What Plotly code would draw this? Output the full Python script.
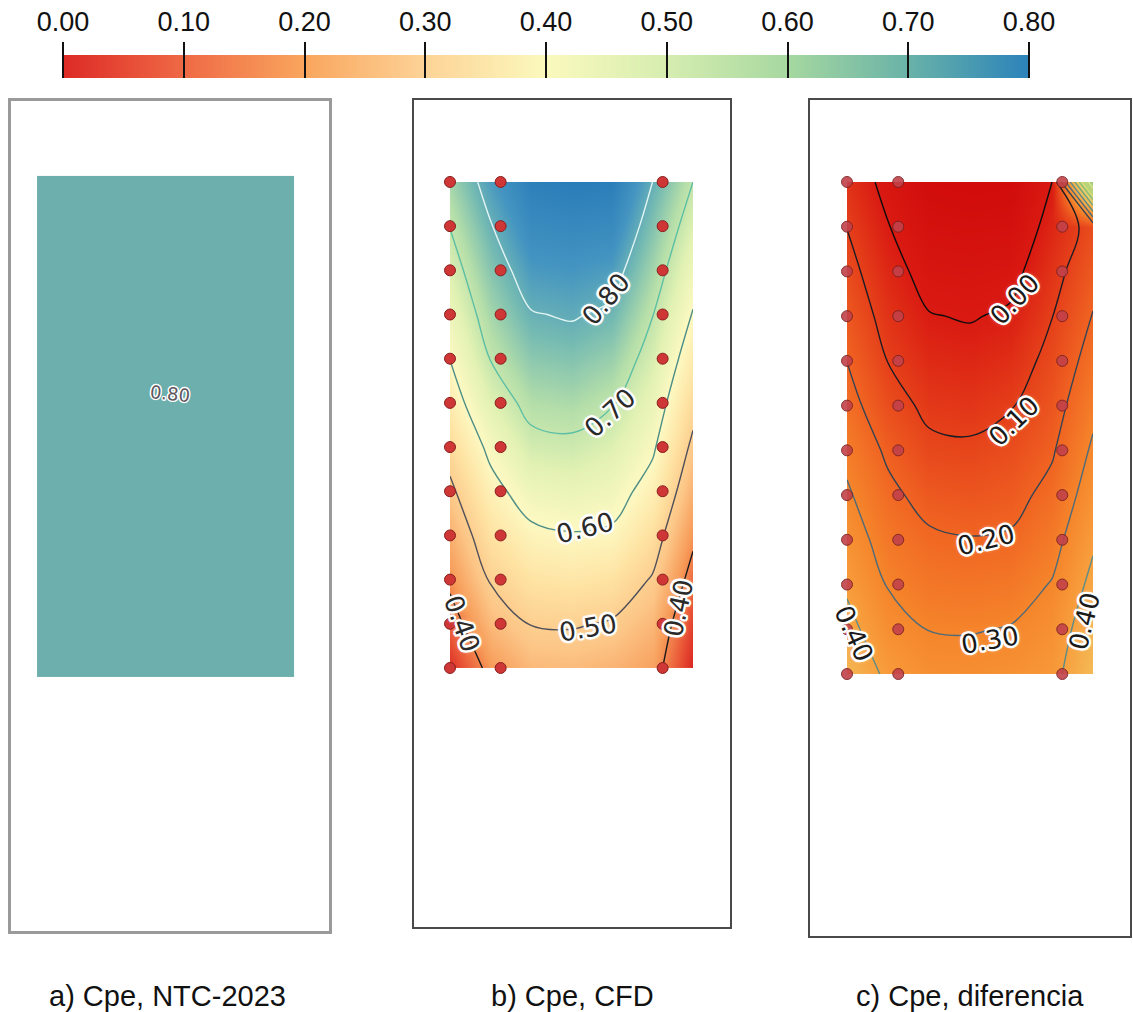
import plotly.graph_objects as go

W, H = 1133, 1012

# ---------------- data ----------------
cbar_ticks = [0.0, 0.1, 0.2, 0.3, 0.4, 0.5, 0.6, 0.7, 0.8]
cbar_ticktext = ["0.00", "0.10", "0.20", "0.30", "0.40", "0.50", "0.60", "0.70", "0.80"]

# grid of the pressure field (x across the face, y downward from the top edge)
x_cols = [0, 4, 8, 12, 16, 20, 24]
y_rows = [0, 4, 8, 12, 16, 20, 24, 28, 32, 36, 40, 44]

# a) NTC-2023 : uniform value
cpe_ntc = 0.80
ntc_x_edges = [0, 24]
ntc_y_edges = [0, 44]

# b) CFD
cpe_cfd = [
    [0.735, 0.830, 0.900, 0.910, 0.905, 0.800, 0.700],
    [0.702, 0.796, 0.868, 0.875, 0.870, 0.767, 0.665],
    [0.668, 0.765, 0.833, 0.840, 0.828, 0.735, 0.630],
    [0.635, 0.734, 0.796, 0.806, 0.787, 0.702, 0.596],
    [0.601, 0.702, 0.758, 0.767, 0.746, 0.672, 0.560],
    [0.565, 0.662, 0.720, 0.728, 0.705, 0.641, 0.523],
    [0.525, 0.616, 0.680, 0.687, 0.665, 0.610, 0.486],
    [0.487, 0.578, 0.632, 0.642, 0.628, 0.574, 0.450],
    [0.450, 0.541, 0.585, 0.596, 0.590, 0.533, 0.414],
    [0.414, 0.505, 0.543, 0.550, 0.540, 0.495, 0.375],
    [0.370, 0.465, 0.502, 0.505, 0.495, 0.460, 0.335],
    [0.320, 0.420, 0.462, 0.465, 0.455, 0.430, 0.310],
]

# c) difference
cpe_diff = [
    [0.065, -0.030, -0.100, -0.110, -0.105, 0.000, 0.900],
    [0.098, 0.004, -0.068, -0.075, -0.070, 0.033, 0.135],
    [0.132, 0.035, -0.033, -0.040, -0.028, 0.065, 0.170],
    [0.165, 0.066, 0.004, -0.006, 0.013, 0.098, 0.204],
    [0.199, 0.098, 0.042, 0.033, 0.054, 0.128, 0.240],
    [0.235, 0.138, 0.080, 0.072, 0.095, 0.159, 0.277],
    [0.275, 0.184, 0.120, 0.113, 0.135, 0.190, 0.314],
    [0.313, 0.222, 0.168, 0.158, 0.172, 0.226, 0.350],
    [0.350, 0.259, 0.215, 0.204, 0.210, 0.267, 0.386],
    [0.386, 0.295, 0.257, 0.250, 0.260, 0.305, 0.425],
    [0.430, 0.335, 0.298, 0.295, 0.305, 0.340, 0.465],
    [0.480, 0.380, 0.338, 0.335, 0.345, 0.370, 0.490],
]

# pressure taps
tap_x = [0, 5, 21]
tap_y = [0, 4, 8, 12, 16, 20, 24, 28, 32, 36, 40, 44]

captions = ["a) Cpe, NTC-2023", "b) Cpe, CFD", "c) Cpe, diferencia"]

cfd_label_text = ["0.80", "0.70", "0.60", "0.50", "0.40", "0.40"]
diff_label_text = ["0.00", "0.10", "0.20", "0.30", "0.40", "0.40"]
ntc_label_text = "0.80"

# ---------------- styling / layout helpers ----------------
# label placement (x, y, angle) in panel data units
cfd_label_pos = [(15.4, 10.6, -50), (15.8, 20.9, -42), (13.3, 31.3, -14),
                 (13.6, 40.4, -10), (1.2, 40.0, 70), (22.6, 38.6, -78)]
diff_label_pos = [(16.4, 10.5, -47), (16.3, 21.4, -44), (13.6, 32.0, -14),
                  (14.0, 41.0, -10), (0.7, 40.4, 66), (23.2, 39.3, -76)]
ntc_label_pos = (12.4, 19.1, 6)

cbar_scale = [[0.0, "#dd2a26"], [0.125, "#ef6a45"], [0.25, "#f9a65e"],
              [0.375, "#fdd397"], [0.5, "#fbf9bd"], [0.625, "#d6edb0"],
              [0.75, "#a6d8a0"], [0.875, "#69b2a8"], [1.0, "#2b83ba"]]

b_zmin, b_zmax = 0.30, 0.91
b_stops = [(0.30, "#d7191c"), (0.36, "#ea5a39"), (0.42, "#f79b58"),
           (0.48, "#fcc586"), (0.54, "#fee2a2"), (0.60, "#fdf9c2"),
           (0.66, "#e2f2b3"), (0.72, "#b4dea9"), (0.78, "#76bbb2"),
           (0.84, "#4495c1"), (0.91, "#2a7cb9")]
b_scale = [[(v - b_zmin) / (b_zmax - b_zmin), c] for v, c in b_stops]

c_zmin, c_zmax = -0.12, 0.90
c_stops = [(-0.12, "#d00a0a"), (0.0, "#d91a12"), (0.10, "#e5401a"),
           (0.20, "#f06422"), (0.30, "#f5852b"), (0.40, "#f8a03e"),
           (0.50, "#f3bd5a"), (0.65, "#d8d878"), (0.90, "#98cc78")]
c_scale = [[(v - c_zmin) / (c_zmax - c_zmin), c] for v, c in c_stops]

b_line_scale = [[0.0, "#1a1a1a"], [0.25, "#50505a"], [0.5, "#4f8f86"],
                [0.75, "#5cbfa5"], [1.0, "#e2f5f2"]]
c_line_scale = [[0.0, "#0d0d0d"], [0.125, "#1c1c24"], [0.25, "#334455"],
                [0.375, "#4d6b7a"], [0.5, "#5e8c86"], [0.625, "#6ea57e"],
                [0.75, "#8cbf78"], [0.875, "#b0d47a"], [1.0, "#d4e690"]]

halo = ("2.4px 0 0 #fff, -2.4px 0 0 #fff, 0 2.4px 0 #fff, 0 -2.4px 0 #fff, "
        "1.8px 1.8px 0 #fff, -1.8px -1.8px 0 #fff, 1.8px -1.8px 0 #fff, "
        "-1.8px 1.8px 0 #fff, 0 0 5px #fff")
halo_small = ("1.4px 0 0 #fff, -1.4px 0 0 #fff, 0 1.4px 0 #fff, 0 -1.4px 0 #fff, "
              "1px 1px 0 #fff, -1px -1px 0 #fff, 1px -1px 0 #fff, -1px 1px 0 #fff")


def fx(p):
    return p / W


def fy(p):
    return 1 - p / H


fig = go.Figure()

# ----- colour bar (own axes) -----
fig.add_trace(go.Contour(
    x=cbar_ticks, y=[0, 1], z=[cbar_ticks, cbar_ticks],
    colorscale=cbar_scale, zmin=0, zmax=0.8, showscale=False,
    contours=dict(coloring="heatmap", showlines=False),
    line=dict(width=0), xaxis="x4", yaxis="y4", hoverinfo="skip"))

# ----- panel a -----
fig.add_trace(go.Heatmap(
    x=ntc_x_edges, y=ntc_y_edges, z=[[cpe_ntc]],
    colorscale=[[0, "#6cafad"], [1, "#6cafad"]], showscale=False,
    xaxis="x", yaxis="y", hoverinfo="skip"))

# ----- panel b -----
fig.add_trace(go.Contour(
    x=x_cols, y=y_rows, z=cpe_cfd, colorscale=b_scale, zmin=b_zmin, zmax=b_zmax,
    showscale=False, contours=dict(coloring="heatmap", showlines=False),
    line=dict(width=0), xaxis="x2", yaxis="y2", hoverinfo="skip"))
fig.add_trace(go.Contour(
    x=x_cols, y=y_rows, z=cpe_cfd, colorscale=b_line_scale, zmin=0.4, zmax=0.8,
    showscale=False, autocontour=False,
    contours=dict(coloring="lines", start=0.4, end=0.8, size=0.1),
    line=dict(width=1.4, smoothing=1.0), xaxis="x2", yaxis="y2", hoverinfo="skip"))
fig.add_trace(go.Scatter(
    x=[xv for yv in tap_y for xv in tap_x], y=[yv for yv in tap_y for xv in tap_x],
    mode="markers", marker=dict(size=11, color="#cf3636", line=dict(color="#8a1f1f", width=1)),
    xaxis="x2", yaxis="y2", hoverinfo="skip"))

# ----- panel c -----
fig.add_trace(go.Contour(
    x=x_cols, y=y_rows, z=cpe_diff, colorscale=c_scale, zmin=c_zmin, zmax=c_zmax,
    showscale=False, contours=dict(coloring="heatmap", showlines=False),
    line=dict(width=0), xaxis="x3", yaxis="y3", hoverinfo="skip"))
fig.add_trace(go.Contour(
    x=x_cols, y=y_rows, z=cpe_diff, colorscale=c_line_scale, zmin=0.0, zmax=0.8,
    showscale=False, autocontour=False,
    contours=dict(coloring="lines", start=0.0, end=0.8, size=0.1),
    line=dict(width=1.4, smoothing=1.0), xaxis="x3", yaxis="y3", hoverinfo="skip"))
fig.add_trace(go.Scatter(
    x=[xv for yv in tap_y for xv in tap_x], y=[yv for yv in tap_y for xv in tap_x],
    mode="markers", marker=dict(size=11, color="#c2414a", opacity=0.9,
                                line=dict(color="#7a2222", width=1)),
    xaxis="x3", yaxis="y3", hoverinfo="skip"))


# ----- axes -----
def box_axis(domain, rng, color, width, anchor):
    return dict(domain=domain, range=rng, showgrid=False, zeroline=False,
                showticklabels=False, ticks="", showline=True, mirror=True,
                linecolor=color, linewidth=width, fixedrange=True,
                automargin=False, anchor=anchor)


layout = dict(
    width=W, height=H, margin=dict(l=0, r=0, t=0, b=0, autoexpand=False),
    paper_bgcolor="white", plot_bgcolor="rgba(0,0,0,0)", showlegend=False,
    xaxis=box_axis([fx(10.7), fx(328.5)], [-2.46, 27.22], "#9a9a9a", 2.5, "y"),
    yaxis=box_axis([fy(931), fy(101)], [66.3, -6.58], "#9a9a9a", 2.5, "x"),
    xaxis2=box_axis([fx(414), fx(730)], [-3.556, 27.654], "#4a4a4a", 1.5, "y2"),
    yaxis2=box_axis([fy(927), fy(100)], [67.45, -7.42], "#4a4a4a", 1.5, "x2"),
    xaxis3=box_axis([fx(810), fx(1130)], [-3.61, 27.61], "#4a4a4a", 1.5, "y3"),
    yaxis3=box_axis([fy(936), fy(100)], [67.43, -7.33], "#4a4a4a", 1.5, "x3"),
    # colour-bar axis: line sits at the bottom edge of the bar, ticks point up
    # through the bar and past it, labels above
    xaxis4=dict(domain=[fx(63), fx(1029)], range=[0, 0.8], side="top",
                anchor="free", position=fy(78),
                tickmode="array", tickvals=cbar_ticks, ticktext=cbar_ticktext,
                ticks="outside", ticklen=36, tickwidth=2, tickcolor="#111",
                showgrid=False, zeroline=False, showline=False,
                fixedrange=True, automargin=False, layer="above traces",
                tickfont=dict(family="Liberation Sans Narrow, Liberation Sans", size=27, color="#111")),
    yaxis4=dict(domain=[fy(78), fy(55)], range=[0, 1], visible=False,
                fixedrange=True, anchor="x4", automargin=False),
)
fig.update_layout(**layout)

ann = []
for txt, (ax_, ay_, ang) in zip(cfd_label_text, cfd_label_pos):
    ann.append(dict(x=ax_, y=ay_, xref="x2", yref="y2", text=txt, textangle=ang,
                    showarrow=False,
                    font=dict(family="DejaVu Sans", size=26, color="#2a2a2a", shadow=halo)))
for txt, (ax_, ay_, ang) in zip(diff_label_text, diff_label_pos):
    ann.append(dict(x=ax_, y=ay_, xref="x3", yref="y3", text=txt, textangle=ang,
                    showarrow=False,
                    font=dict(family="DejaVu Sans", size=26, color="#1a1a1a", shadow=halo)))
ann.append(dict(x=ntc_label_pos[0], y=ntc_label_pos[1], xref="x", yref="y",
                text=ntc_label_text, textangle=ntc_label_pos[2], showarrow=False,
                font=dict(family="DejaVu Sans", size=18, color="#5e565c", shadow=halo_small)))
for txt, cx in zip(captions, [168, 572, 970]):
    ann.append(dict(x=fx(cx), y=fy(996), xref="paper", yref="paper", text=txt,
                    showarrow=False, xanchor="center", yanchor="middle",
                    font=dict(family="Liberation Sans Narrow, Liberation Sans, Arial",
                              size=29, color="#111")))
fig.update_layout(annotations=ann)

fig.write_html("out.html")
